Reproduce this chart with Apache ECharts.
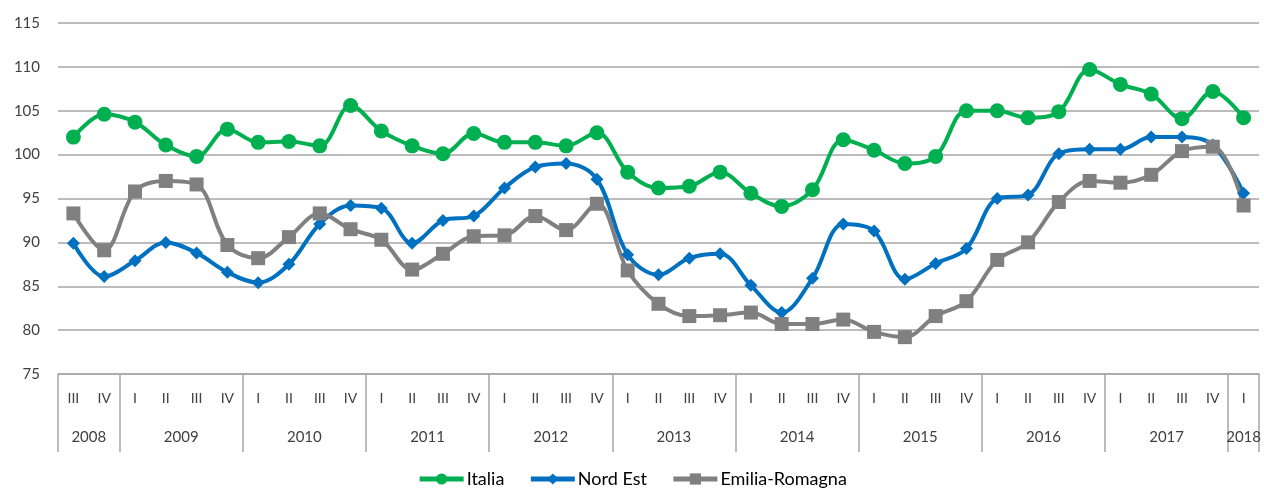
<!DOCTYPE html>
<html>
<head>
<meta charset="utf-8">
<script src="https://cdn.jsdelivr.net/npm/echarts@6/dist/echarts.min.js"></script>
<style>
    html, body { margin: 0; padding: 0; background: #fff; }
    #grafico { width: 1264px; height: 488px; }
</style>
</head>
<body>
<div id="grafico"></div>
<script>
// Trimestri 2008 III - 2018 I
var trimestri = ['III', 'IV',
    'I', 'II', 'III', 'IV', 'I', 'II', 'III', 'IV', 'I', 'II', 'III', 'IV',
    'I', 'II', 'III', 'IV', 'I', 'II', 'III', 'IV', 'I', 'II', 'III', 'IV',
    'I', 'II', 'III', 'IV', 'I', 'II', 'III', 'IV', 'I', 'II', 'III', 'IV',
    'I'];
var anni = ['2008', '2009', '2010', '2011', '2012', '2013', '2014', '2015', '2016', '2017', '2018'];
var trimestri_per_anno = [2, 4, 4, 4, 4, 4, 4, 4, 4, 4, 1];

var italia = [102.0, 104.6, 103.7, 101.1, 99.8, 102.9, 101.4, 101.5, 101.0, 105.6,
    102.7, 101.0, 100.1, 102.4, 101.4, 101.4, 101.0, 102.5, 98.0, 96.2,
    96.4, 98.0, 95.6, 94.1, 96.0, 101.7, 100.5, 99.0, 99.8, 105.0,
    105.0, 104.2, 104.9, 109.7, 108.0, 106.9, 104.1, 107.2, 104.2];
var nord_est = [89.9, 86.1, 87.9, 90.0, 88.8, 86.6, 85.4, 87.5, 92.1, 94.2,
    93.9, 89.9, 92.5, 93.0, 96.2, 98.6, 99.0, 97.2, 88.6, 86.3,
    88.2, 88.7, 85.1, 82.0, 85.9, 92.1, 91.3, 85.8, 87.6, 89.3,
    95.0, 95.4, 100.1, 100.6, 100.6, 102.0, 102.0, 101.1, 95.6];
var emilia_romagna = [93.3, 89.1, 95.8, 97.0, 96.6, 89.7, 88.2, 90.6, 93.3, 91.5,
    90.3, 86.9, 88.7, 90.7, 90.8, 93.0, 91.4, 94.4, 86.8, 83.0,
    81.6, 81.7, 82.0, 80.7, 80.7, 81.2, 79.8, 79.2, 81.6, 83.3,
    88.0, 90.0, 94.6, 97.0, 96.8, 97.7, 100.4, 100.9, 94.2];

var color_verde = '#00b050';
var color_azul = '#0070c0';
var color_gris = '#808080';
var color_linea = '#a6a6a6';
var color_texto = '#404040';
var fuente = 'Lato, "Open Sans", sans-serif';

// asse degli anni: passi di mezzo trimestre, etichetta al centro di ogni anno
var etichetta_anno = {};
var confine_anno = {0: true};
var pos = 0;
anni.forEach(function(a, k) {
    var n = trimestri_per_anno[k];
    etichetta_anno[pos + n] = a;
    pos += 2 * n;
    confine_anno[pos] = true;
});
var mezzi = [];
for (var i = 0; i <= pos; i++) mezzi.push('h' + i);

var chart = echarts.init(document.getElementById('grafico'));

function serie(nombre, datos, color, simbolo, tam) {
    return {
        name: nombre,
        type: 'line',
        data: datos,
        smooth: 0.35,
        symbol: simbolo,
        symbolSize: tam,
        showAllSymbol: true,
        lineStyle: { color: color, width: 4 },
        itemStyle: { color: color },
        emphasis: { disabled: true }
    };
}

var option = {
    animation: false,
    textStyle: { fontFamily: fuente },
    grid: { left: 58, right: 5, top: 23, bottom: 114 },
    legend: {
        bottom: -5,
        left: 'center',
        itemWidth: 44,
        itemHeight: 14,
        itemGap: 24,
        lineStyle: { width: 5 },
        textStyle: { fontSize: 18, color: '#000', fontFamily: fuente, padding: [0, 0, 0, -2] },
        data: ['Italia', 'Nord Est', 'Emilia-Romagna']
    },
    xAxis: [
        {
            type: 'category',
            data: trimestri,
            boundaryGap: true,
            axisLine: { show: true, lineStyle: { color: color_linea, width: 1.5 } },
            axisTick: { show: false },
            axisLabel: { interval: 0, margin: 17, fontSize: 14, color: color_texto, fontFamily: fuente },
            splitLine: { show: false }
        },
        {
            type: 'category',
            data: mezzi,
            boundaryGap: false,
            position: 'bottom',
            axisLine: { show: false },
            axisTick: {
                show: true,
                length: 78,
                interval: function(index) { return !!confine_anno[index]; },
                lineStyle: { color: color_linea, width: 1.5 }
            },
            axisLabel: {
                margin: 56,
                fontSize: 15,
                color: color_texto,
                fontFamily: fuente,
                interval: function(index) { return !!etichetta_anno[index]; },
                formatter: function(value, index) { return etichetta_anno[index] || ''; }
            },
            splitLine: { show: false }
        }
    ],
    yAxis: {
        type: 'value',
        min: 75,
        max: 115,
        interval: 5,
        axisLine: { show: false },
        axisTick: { show: false },
        axisLabel: { margin: 18, fontSize: 15, color: color_texto, fontFamily: fuente },
        splitLine: { lineStyle: { color: color_linea, width: 1.5 } }
    },
    series: [
        serie('Italia', italia, color_verde, 'circle', 15),
        serie('Nord Est', nord_est, color_azul, 'diamond', 13),
        serie('Emilia-Romagna', emilia_romagna, color_gris, 'rect', 14)
    ]
};

chart.setOption(option);
</script>
</body>
</html>
